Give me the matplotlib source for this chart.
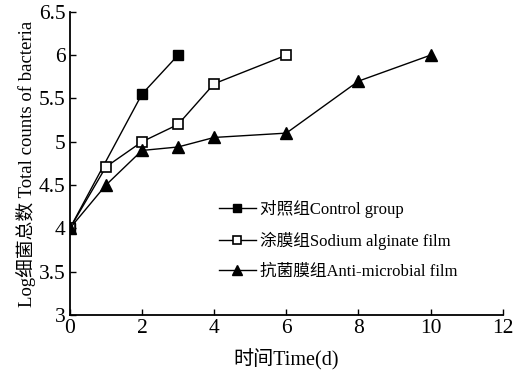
import matplotlib
matplotlib.use("Agg")
import matplotlib.pyplot as plt

fam = ['Liberation Serif', 'Noto Sans CJK SC']
plt.rcParams['font.family'] = fam

control_x = [0, 2, 3]
control_y = [4.0, 5.55, 6.0]
sodium_x = [0, 1, 2, 3, 4, 6]
sodium_y = [4.0, 4.71, 5.0, 5.2, 5.67, 6.0]
anti_x = [0, 1, 2, 3, 4, 6, 8, 10]
anti_y = [4.0, 4.5, 4.9, 4.94, 5.05, 5.1, 5.7, 6.0]
labels = ['对照组Control group', '涂膜组Sodium alginate film', '抗菌膜组Anti-microbial film']
xticks = [0, 2, 4, 6, 8, 10, 12]
yticks = [3, 3.5, 4, 4.5, 5, 5.5, 6, 6.5]
yticklabels = ['3', '3.5', '4', '4.5', '5', '5.5', '6', '6.5']

fig = plt.figure(figsize=(5.21, 3.81), dpi=100)
ax = fig.add_axes([0.134, 0.173, 0.831, 0.796])
ax.plot(control_x, control_y, color='black', lw=1, marker='s', ms=7, mfc='black', mec='black', label=labels[0])
ax.plot(sodium_x, sodium_y, color='black', lw=1, marker='s', ms=7, mfc='white', mec='black', mew=1.2, label=labels[1])
ax.plot(anti_x, anti_y, color='black', lw=1, marker='^', ms=8, mfc='black', mec='black', label=labels[2])

ax.set_xlim(0, 12)
ax.set_ylim(3, 6.5)
ax.set_xticks(xticks)
ax.set_xticklabels([str(t) for t in xticks], fontsize=15.5)
ax.set_yticks(yticks)
ax.set_yticklabels(yticklabels, fontsize=15.5)
ax.tick_params(direction='in', length=4, width=1, pad=3)
for s in ['top', 'right']:
    ax.spines[s].set_visible(False)
for s in ['left', 'bottom']:
    ax.spines[s].set_linewidth(1.3)

ax.set_xlabel('时间Time(d)', fontsize=14.5, labelpad=8)
ax.set_ylabel('Log细菌总数 Total counts of bacteria', fontsize=13.5, labelpad=2)

leg = ax.legend(loc='upper left', bbox_to_anchor=(0.31, 0.43), frameon=False,
                fontsize=12, handlelength=2.2, handletextpad=0.25, labelspacing=0.85,
                markerscale=0.85)

fig.savefig('out.png', dpi=100)
